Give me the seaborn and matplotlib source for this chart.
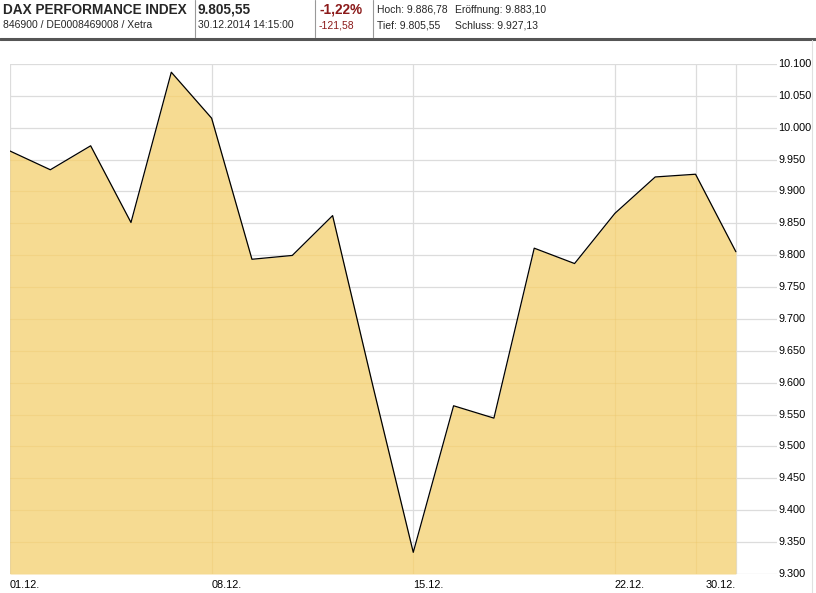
import matplotlib
matplotlib.use("Agg")
import matplotlib.pyplot as plt
from matplotlib.lines import Line2D
import seaborn as sns
import pandas as pd

dates = ["01.12.", "02.12.", "03.12.", "04.12.", "05.12.",
         "08.12.", "09.12.", "10.12.", "11.12.", "12.12.",
         "15.12.", "16.12.", "17.12.", "18.12.", "19.12.",
         "22.12.", "23.12.", "29.12.", "30.12."]
values = [9963.5, 9934.1, 9971.7, 9851.4, 10087.1,
          10015.0, 9793.7, 9799.7, 9862.2, 9594.7,
          9334.0, 9563.9, 9544.5, 9811.1, 9787.0,
          9865.7, 9922.8, 9927.1, 9805.55]
tick_labels = ["01.12.", "08.12.", "15.12.", "22.12.", "30.12."]
grid_dates = ["01.12.", "08.12.", "15.12.", "22.12.", "29.12.", "30.12."]
y_ticks = list(range(9300, 10101, 50))

df = pd.DataFrame({"idx": range(len(dates)), "date": dates, "value": values})

sns.set_theme(style="white")
plt.rcParams["font.family"] = ["Liberation Sans", "DejaVu Sans"]

W, H = 816, 593
fig = plt.figure(figsize=(W / 100, H / 100), dpi=100)
ax = fig.add_axes([10 / W, 19 / H, 767 / W, 510 / H])

poly = ax.fill_between(df["idx"], df["value"], 9300, color="#F6DB92", linewidth=0, zorder=2)
sns.lineplot(data=df, x="idx", y="value", ax=ax, color="black", linewidth=0.9, zorder=3)

ax.set_xlim(0, 19.02)
ax.set_ylim(9300, 10100)

clip = poly.get_paths()[0]

# grid (gray on white, faint yellow inside the fill)
for yv in y_ticks:
    ax.axhline(yv, color="#DCDCDC", linewidth=0.9, zorder=1)
    ln = ax.axhline(yv, color="#EBC66A", linewidth=0.8, alpha=0.35, zorder=2.2)
    ln.set_clip_path(clip, ax.transData)
for lbl in grid_dates:
    xv = dates.index(lbl)
    ax.axvline(xv, color="#DCDCDC", linewidth=0.9, zorder=1)
    ln = ax.axvline(xv, color="#EBC66A", linewidth=0.8, alpha=0.35, zorder=2.2)
    ln.set_clip_path(clip, ax.transData)

for s in ax.spines.values():
    s.set_visible(False)
ax.set_xticks([])
ax.set_yticks([])
ax.set_xlabel("")
ax.set_ylabel("")

# x labels
for lbl in tick_labels:
    i = dates.index(lbl)
    ha = "right" if lbl == dates[-1] else "left"
    ax.text(i, -0.012, lbl, transform=ax.get_xaxis_transform(), ha=ha, va="top",
            fontsize=7.8, color="black")

# y labels on right
for yv in y_ticks:
    s = f"{yv:,}".replace(",", ".")
    ax.text(1.0015, yv, s, transform=ax.get_yaxis_transform(), ha="left", va="center",
            fontsize=7.8, color="black")

# header
def px(x, y):
    return x / W, 1 - y / H

fig.text(*px(3, 10), "DAX PERFORMANCE INDEX", fontsize=9.8, fontweight="bold", va="center", ha="left")
fig.text(*px(3, 25), "846900 / DE0008469008 / Xetra", fontsize=7.5, va="center", ha="left")
fig.text(*px(198, 10), "9.805,55", fontsize=9.8, fontweight="bold", va="center", ha="left")
fig.text(*px(198, 25), "30.12.2014 14:15:00", fontsize=7.5, va="center", ha="left")
fig.text(*px(319, 10), "-1,22%", fontsize=9.8, fontweight="bold", va="center", ha="left", color="#8B1A1A")
fig.text(*px(319, 25), "-121,58", fontsize=7.5, va="center", ha="left", color="#8B1A1A")
fig.text(*px(377, 10), "Hoch: 9.886,78", fontsize=7.5, va="center", ha="left")
fig.text(*px(455, 10), "Eröffnung: 9.883,10", fontsize=7.5, va="center", ha="left")
fig.text(*px(377, 25), "Tief: 9.805,55", fontsize=7.5, va="center", ha="left")
fig.text(*px(455, 25), "Schluss: 9.927,13", fontsize=7.5, va="center", ha="left")

for xs in [195, 315, 373]:
    fig.add_artist(Line2D([xs / W, xs / W], [1 - 0 / H, 1 - 37 / H], color="#999999", linewidth=0.8))
fig.add_artist(Line2D([0, 1], [1 - 38.5 / H, 1 - 38.5 / H], color="#555555", linewidth=2.2))
fig.add_artist(Line2D([812 / W, 812 / W], [1 - 40 / H, 0], color="#E0E0E0", linewidth=0.8))

fig.savefig("out.png", dpi=100)
